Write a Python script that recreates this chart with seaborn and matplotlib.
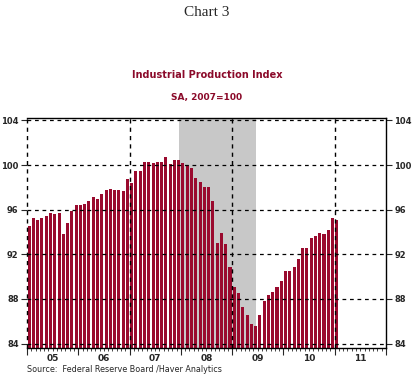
import pandas as pd
import seaborn as sns
import matplotlib.pyplot as plt
from matplotlib.ticker import FixedLocator, NullFormatter

# Indice de produccion industrial, mensual, ene 2005 - ene 2011 (SA, 2007=100)
meses = pd.date_range('2005-01-01', '2011-01-01', freq='MS').strftime('%Y-%m').tolist()
valores = [
    94.5, 95.25, 95.1, 95.25, 95.4, 95.7, 95.6, 95.7, 93.8, 94.8, 95.9, 96.4,      # 2005
    96.4, 96.5, 96.8, 97.1, 97.0, 97.4, 97.75, 97.9, 97.75, 97.75, 97.7, 98.75,    # 2006
    98.4, 99.5, 99.5, 100.3, 100.3, 100.2, 100.3, 100.3, 100.7, 100.1, 100.45, 100.5,  # 2007
    100.2, 100.0, 99.7, 98.8, 98.5, 98.0, 98.0, 96.8, 93.0, 93.9, 92.9, 90.9,     # 2008
    89.05, 88.5, 87.3, 86.55, 85.75, 85.55, 86.6, 87.8, 88.35, 88.6, 89.05, 89.6,  # 2009
    90.5, 90.5, 90.9, 91.55, 92.55, 92.55, 93.45, 93.6, 93.9, 93.8, 94.2, 95.25,  # 2010
    95.1,                                                                          # 2011
]
anios = ['05', '06', '07', '08', '09', '10', '11']
yticks = [84, 88, 92, 96, 100, 104]
recesion = (35.0, 53.2)  # dic 2007 - jun 2009

df = pd.DataFrame({'mes': meses, 'ipi': valores})

rojo = '#9A0A2E'
titulo_color = '#8B0A2A'

sns.set_style('white')
plt.rcParams['font.family'] = ['DejaVu Sans']

fig = plt.figure(figsize=(4.14, 3.76), dpi=100)
ax = fig.add_axes([0.0652, 0.0745, 0.867, 0.611])

ax.axvspan(recesion[0], recesion[1], color='#C8C8C8', lw=0, zorder=0)
sns.barplot(data=df, x='mes', y='ipi', color=rojo, saturation=1, width=0.72, ax=ax, zorder=2)
for p in ax.patches:
    p.set_edgecolor('none')

ax.set_xlim(-0.5, 83.5)
ax.set_ylim(83.6, 104.2)

# cuadricula punteada
for y in yticks:
    ax.axhline(y, color='black', ls=(0, (3, 3)), lw=0.9, zorder=3)
for x in [-0.5, 23.5, 47.5, 71.5]:
    ax.axvline(x, color='black', ls=(0, (3, 3)), lw=1.0, zorder=3, clip_on=False)

ax.spines['left'].set_visible(False)
for s in ['top', 'right', 'bottom']:
    ax.spines[s].set_color('black')
    ax.spines[s].set_linewidth(1.0)

ax.set_yticks(yticks)
ax.set_yticklabels([str(v) for v in yticks], fontsize=6, fontweight='bold')
ax.tick_params(axis='y', which='both', left=True, right=True, labelleft=True, labelright=True,
               direction='out', length=4, width=0.8, pad=2)

ax.xaxis.set_major_locator(FixedLocator([-0.5 + 12 * i for i in range(8)]))
ax.xaxis.set_minor_locator(FixedLocator([-0.5 + i for i in range(85)]))
ax.xaxis.set_major_formatter(NullFormatter())
ax.tick_params(axis='x', which='major', direction='out', length=5, width=0.8, bottom=True)
ax.tick_params(axis='x', which='minor', direction='out', length=2, width=0.6, bottom=True)
for i, a in enumerate(anios):
    ax.text(5.5 + 12 * i, -0.025, a, transform=ax.get_xaxis_transform(), ha='center', va='top',
            fontsize=6.5, fontweight='bold')
ax.set_xlabel('')
ax.set_ylabel('')

fig.text(0.5, 0.968, 'Chart 3', ha='center', va='center', fontsize=11, family='Liberation Serif')
fig.text(0.5, 0.80, 'Industrial Production Index', ha='center', va='center', fontsize=7,
         fontweight='bold', color=titulo_color)
fig.text(0.5, 0.742, 'SA, 2007=100', ha='center', va='center', fontsize=6.5,
         fontweight='bold', color=titulo_color)
fig.text(0.065, 0.017, 'Source:  Federal Reserve Board /Haver Analytics', ha='left', va='center',
         fontsize=5.8)

fig.savefig('out.png', dpi=100)
